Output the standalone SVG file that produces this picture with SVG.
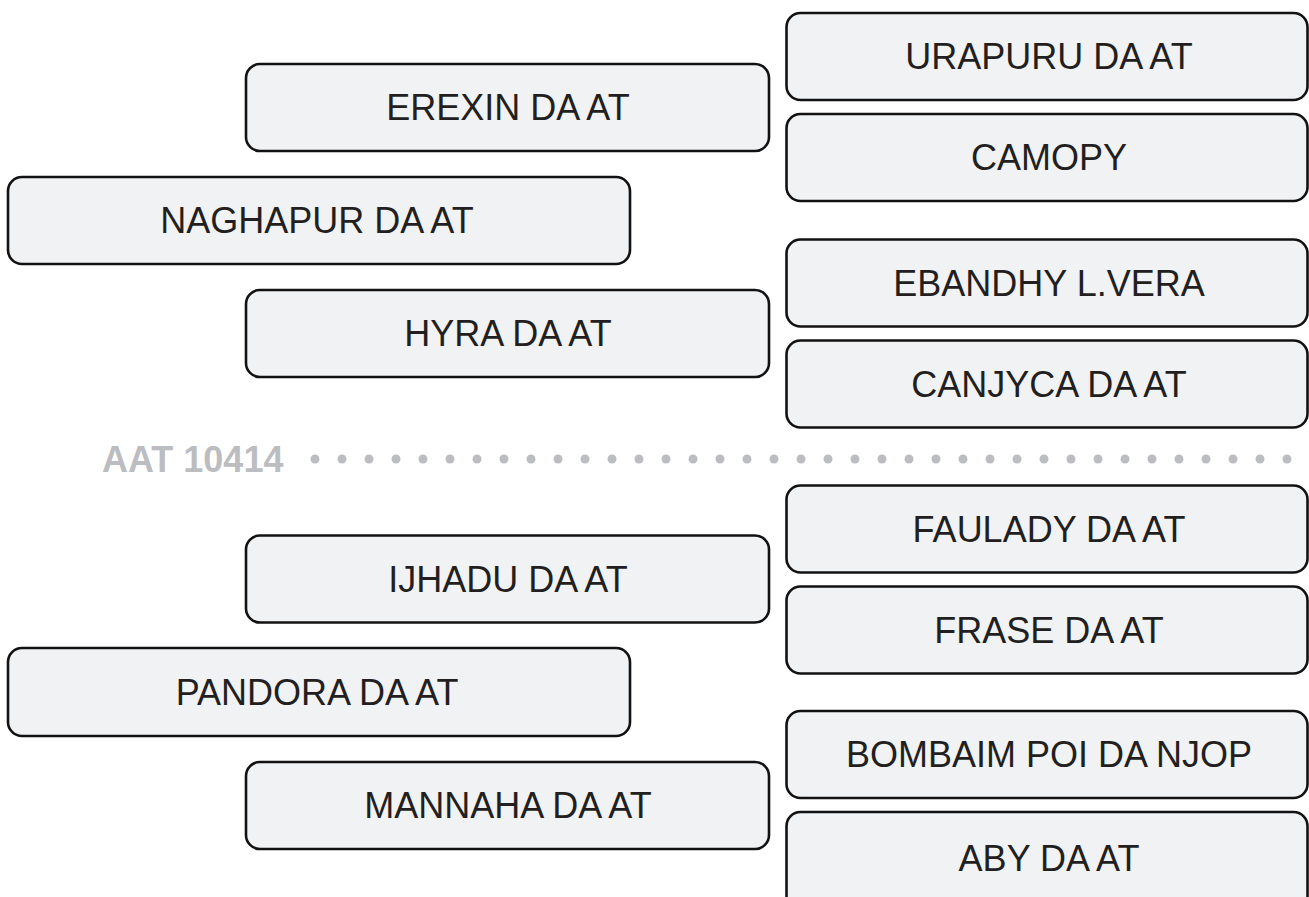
<svg xmlns="http://www.w3.org/2000/svg" width="1309" height="897" viewBox="0 0 1309 897">
<style>
.box{fill:#f1f2f4;stroke:#121212;stroke-width:2.6}
.lbl{font-family:"Liberation Sans",Arial,sans-serif;font-size:36px;fill:#231f20;text-anchor:middle}
.sep{font-family:"Liberation Sans",Arial,sans-serif;font-size:36px;font-weight:bold;fill:#bcbdc1}
.dot{fill:#bcbdc1}
</style>
<rect width="1309" height="897" fill="#ffffff"/>
<g id="connectors"></g>
<g id="n-erexin"><rect class="box" x="246" y="64" width="523" height="87" rx="14"/><text class="lbl" x="508" y="120">EREXIN DA AT</text></g>
<g id="n-naghapur"><rect class="box" x="8" y="177" width="622" height="87" rx="14"/><text class="lbl" x="317" y="233">NAGHAPUR DA AT</text></g>
<g id="n-hyra"><rect class="box" x="246" y="290" width="523" height="87" rx="14"/><text class="lbl" x="508" y="346">HYRA DA AT</text></g>
<g id="n-urapuru"><rect class="box" x="786.5" y="13" width="521" height="87" rx="14"/><text class="lbl" x="1049" y="69">URAPURU DA AT</text></g>
<g id="n-camopy"><rect class="box" x="786.5" y="114" width="521" height="87" rx="14"/><text class="lbl" x="1049" y="170">CAMOPY</text></g>
<g id="n-ebandhy"><rect class="box" x="786.5" y="239.5" width="521" height="87" rx="14"/><text class="lbl" x="1049" y="296">EBANDHY L.VERA</text></g>
<g id="n-canjyca"><rect class="box" x="786.5" y="340.5" width="521" height="87" rx="14"/><text class="lbl" x="1049" y="397">CANJYCA DA AT</text></g>
<g id="n-aat"><text class="sep" x="102" y="472">AAT 10414</text>
<g class="dot">
<circle cx="315" cy="459" r="4.5"/><circle cx="342" cy="459" r="4.5"/><circle cx="369" cy="459" r="4.5"/><circle cx="396" cy="459" r="4.5"/><circle cx="423" cy="459" r="4.5"/><circle cx="450" cy="459" r="4.5"/><circle cx="477" cy="459" r="4.5"/><circle cx="504" cy="459" r="4.5"/><circle cx="531" cy="459" r="4.5"/><circle cx="558" cy="459" r="4.5"/><circle cx="585" cy="459" r="4.5"/><circle cx="612" cy="459" r="4.5"/><circle cx="639" cy="459" r="4.5"/><circle cx="666" cy="459" r="4.5"/><circle cx="693" cy="459" r="4.5"/><circle cx="720" cy="459" r="4.5"/><circle cx="747" cy="459" r="4.5"/><circle cx="774" cy="459" r="4.5"/><circle cx="801" cy="459" r="4.5"/><circle cx="828" cy="459" r="4.5"/><circle cx="855" cy="459" r="4.5"/><circle cx="882" cy="459" r="4.5"/><circle cx="909" cy="459" r="4.5"/><circle cx="936" cy="459" r="4.5"/><circle cx="963" cy="459" r="4.5"/><circle cx="990" cy="459" r="4.5"/><circle cx="1017" cy="459" r="4.5"/><circle cx="1044" cy="459" r="4.5"/><circle cx="1071" cy="459" r="4.5"/><circle cx="1098" cy="459" r="4.5"/><circle cx="1125" cy="459" r="4.5"/><circle cx="1152" cy="459" r="4.5"/><circle cx="1179" cy="459" r="4.5"/><circle cx="1206" cy="459" r="4.5"/><circle cx="1233" cy="459" r="4.5"/><circle cx="1260" cy="459" r="4.5"/><circle cx="1287" cy="459" r="4.5"/>
</g></g>
<g id="n-faulady"><rect class="box" x="786.5" y="485.5" width="521" height="87" rx="14"/><text class="lbl" x="1049" y="542">FAULADY DA AT</text></g>
<g id="n-frase"><rect class="box" x="786.5" y="586.5" width="521" height="87" rx="14"/><text class="lbl" x="1049" y="643">FRASE DA AT</text></g>
<g id="n-ijhadu"><rect class="box" x="246" y="535.5" width="523" height="87" rx="14"/><text class="lbl" x="508" y="592">IJHADU DA AT</text></g>
<g id="n-pandora"><rect class="box" x="8" y="648" width="622" height="88" rx="14"/><text class="lbl" x="317" y="705">PANDORA DA AT</text></g>
<g id="n-mannaha"><rect class="box" x="246" y="762" width="523" height="87" rx="14"/><text class="lbl" x="508" y="818">MANNAHA DA AT</text></g>
<g id="n-bombaim"><rect class="box" x="786.5" y="711" width="521" height="87" rx="14"/><text class="lbl" x="1049" y="767">BOMBAIM POI DA NJOP</text></g>
<g id="n-aby"><rect class="box" x="786.5" y="812" width="521" height="100" rx="14"/><text class="lbl" x="1049" y="871">ABY DA AT</text></g>
</svg>
